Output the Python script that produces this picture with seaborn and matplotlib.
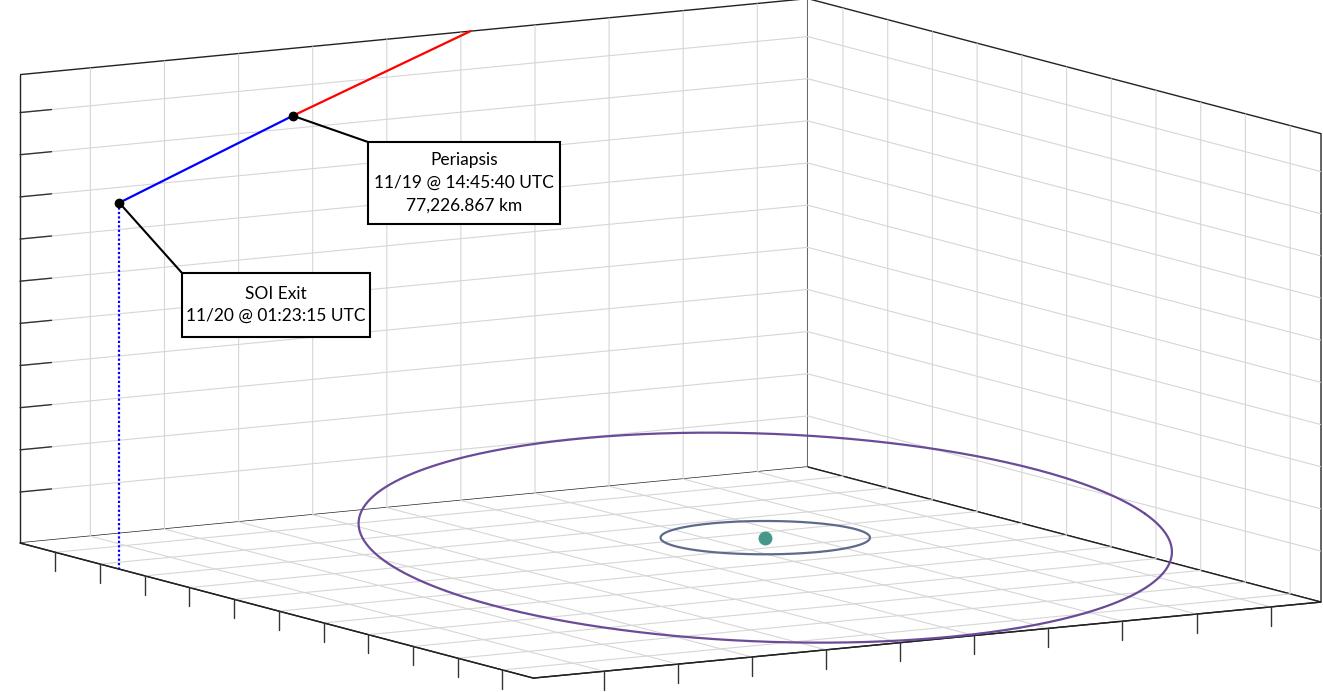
import numpy as np
import matplotlib
matplotlib.use("Agg")
import matplotlib.pyplot as plt
import seaborn as sns
from matplotlib.patches import Rectangle
from mpl_toolkits.mplot3d import axis3d, proj3d

# ==========================================
# Data (grid units, the box is tight around the data)
# ==========================================
# escape trajectory: entry point -> periapsis -> SOI exit
traj_x = [0.00, 1.13, 2.22]
traj_y = [6.08, 3.00, 0.00]
traj_z = [11.11, 9.94, 8.69]

# central body and the two moon orbits around it
planet = [6.84, 5.93, 1.03]
orbit_radius = [1.21, 4.714]
orbit_incl = [0.0, 12.6]      # degrees
orbit_node = [0.0, 80.3]      # degrees
orbit_colors = ["#5d6a8c", "#6b4a97"]

# axis limits and grid positions
x_lim = (0.0, 11.48)
y_lim = (0.0, 10.63)
z_lim = (0.0, 11.11)
x_ticks = np.arange(0.79, 11.0, 1.0)
y_ticks = np.arange(0.95, 10.5, 1.0)
z_ticks = np.arange(1.21, 10.5, 1.0)

peri_label = "Periapsis\n11/19 @ 14:45:40 UTC\n77,226.867 km"
soi_label = "SOI Exit\n11/20 @ 01:23:15 UTC"

# ==========================================
# Style
# ==========================================
sns.set_theme(style="whitegrid", rc={
    "grid.color": "#d6d6d6",
    "grid.linewidth": 0.8,
    "axes.edgecolor": "#222222",
    "axes.linewidth": 1.0,
    "xtick.color": "#333333",
    "ytick.color": "#333333",
    "xtick.major.width": 1.0,
    "ytick.major.width": 1.0,
})
plt.rcParams["font.family"] = ["Lato", "DejaVu Sans"]

# x / y ticks hang straight down (along z) like the reference
axis3d.Axis._AXINFO["x"]["tickdir"] = 2
axis3d.Axis._AXINFO["y"]["tickdir"] = 2

W, H = 1323, 692
fig = plt.figure(figsize=(W / 100, H / 100), dpi=100)
ax = fig.add_axes([0, 0, 1, 1], projection="3d")
ax.set_proj_type("ortho")
ax.view_init(elev=9.17, azim=-31.2)
ax.set_box_aspect((990, 920, 474))
ax.set_xlim(*x_lim)
ax.set_ylim(*y_lim)
ax.set_zlim(*z_lim)
ax.set_xticks(x_ticks)
ax.set_yticks(y_ticks)
ax.set_zticks(z_ticks)
ax.set_xticklabels([])
ax.set_yticklabels([])
ax.set_zticklabels([])
ax.zaxis.set_ticks_position("lower")

for axis in (ax.xaxis, ax.yaxis, ax.zaxis):
    axis.set_pane_color((1, 1, 1, 1))
    axis.pane.set_edgecolor("#222222")
    axis.pane.set_linewidth(1.0)
    axis._axinfo["tick"]["inward_factor"] = 0.0
    axis._axinfo["tick"]["outward_factor"] = 0.5

# ==========================================
# Orbits + planet
# ==========================================
theta = np.linspace(0, 2 * np.pi, 400)
for r, inc, node, col in zip(orbit_radius, orbit_incl, orbit_node, orbit_colors):
    i, o = np.radians(inc), np.radians(node)
    ox = planet[0] + r * (np.cos(o) * np.cos(theta) - np.sin(o) * np.cos(i) * np.sin(theta))
    oy = planet[1] + r * (np.sin(o) * np.cos(theta) + np.cos(o) * np.cos(i) * np.sin(theta))
    oz = planet[2] + r * np.sin(i) * np.sin(theta)
    ax.plot(ox, oy, oz, color=col, lw=1.6)

ax.plot([planet[0]], [planet[1]], [planet[2]], "o", color="#46998a", ms=9, zorder=4)

# ==========================================
# Trajectory
# ==========================================
ax.plot(traj_x[:2], traj_y[:2], traj_z[:2], color="#ff0000", lw=1.6)
ax.plot(traj_x[1:], traj_y[1:], traj_z[1:], color="#0000ff", lw=1.6)
ax.plot([traj_x[2], traj_x[2]], [traj_y[2], traj_y[2]], [traj_z[2], z_lim[0]],
        color="#0000ff", lw=1.6, ls=(0, (1, 1)))
ax.plot(traj_x[1:], traj_y[1:], traj_z[1:], "o", color="black", ms=6, ls="none", zorder=4)

# ==========================================
# Fit the box onto the canvas (left / right floor corners)
# ==========================================
fig.canvas.draw()


def to_px(x, y, z):
    xs, ys, _ = proj3d.proj_transform(np.array([x]), np.array([y]), np.array([z]), ax.get_proj())
    return ax.transData.transform((xs[0], ys[0]))


p_left = to_px(x_lim[0], y_lim[0], z_lim[0])
p_right = to_px(x_lim[1], y_lim[1], z_lim[0])
target_left = np.array([20.0, H - 543.0])
target_right_x = 1321.0

bb = ax.get_position()
size = bb.width * W
center = np.array([(bb.x0 + bb.x1) / 2 * W, (bb.y0 + bb.y1) / 2 * H])
scale = (target_right_x - target_left[0]) / (p_right[0] - p_left[0])
new_size = size * scale
new_center = target_left - (p_left - center) * scale
ax.set_position([(new_center[0] - new_size / 2) / W, (new_center[1] - new_size / 2) / H,
                 new_size / W, new_size / H])

# ==========================================
# Callout boxes
# ==========================================
M = ax.get_proj()


def to_2d(x, y, z):
    xs, ys, _ = proj3d.proj_transform(np.array([x]), np.array([y]), np.array([z]), M)
    return xs[0], ys[0]


def callout(point, box, text):
    left, top, right, bottom = box
    ax.annotate("", xy=to_2d(*point), xycoords="data",
                xytext=(left, H - top), textcoords="figure pixels",
                arrowprops=dict(arrowstyle="-", color="black", lw=1.5,
                                shrinkA=0, shrinkB=0),
                annotation_clip=False)
    fig.add_artist(Rectangle((left / W, 1 - bottom / H), (right - left) / W,
                             (bottom - top) / H, transform=fig.transFigure,
                             facecolor="white", edgecolor="black", lw=1.5, zorder=5))
    fig.text((left + right) / 2 / W, 1 - (top + bottom) / 2 / H, text,
             ha="center", va="center", fontsize=12.5, color="black",
             linespacing=1.5, zorder=6)


callout((traj_x[1], traj_y[1], traj_z[1]), (368, 142, 560, 224), peri_label)
callout((traj_x[2], traj_y[2], traj_z[2]), (182, 273, 370, 337), soi_label)

fig.savefig("out.png", dpi=100)
